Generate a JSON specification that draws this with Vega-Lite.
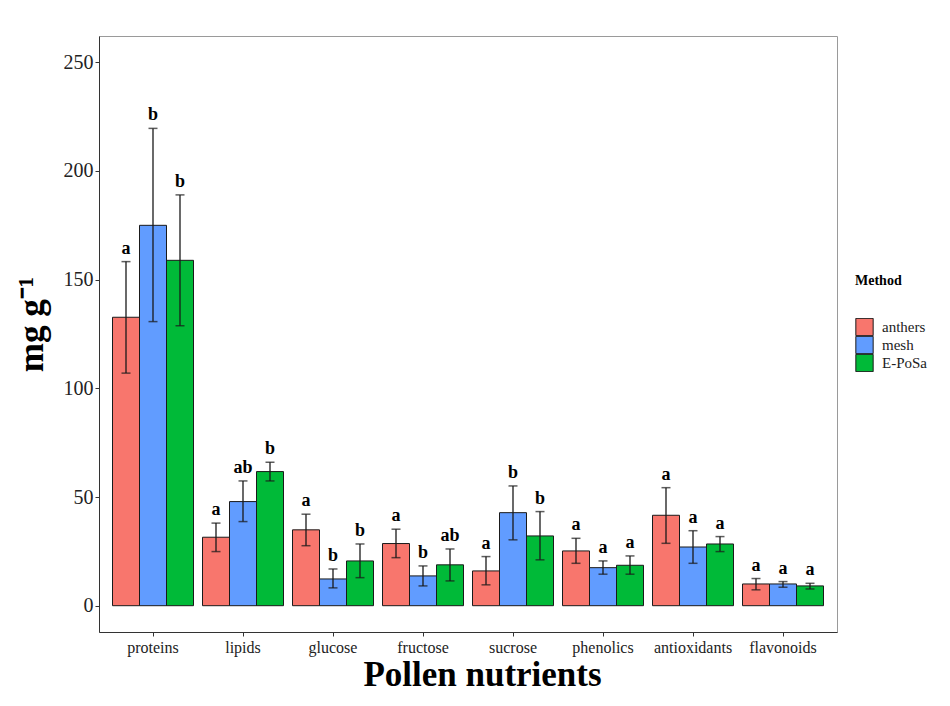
{
  "$schema": "https://vega.github.io/schema/vega-lite/v6.json",
  "autosize": {"type": "none"},
  "width": 738,
  "height": 596,
  "padding": {"left": 99, "top": 36, "right": 113, "bottom": 74},
  "background": "white",
  "config": {
    "font": "Liberation Serif",
    "view": {"stroke": "#9a9a9a", "strokeWidth": 1},
    "axis": {"grid": false, "domainColor": "#333", "tickColor": "#333", "labelColor": "#222", "titleColor": "#000", "labelFont": "Liberation Serif", "titleFont": "Liberation Serif"}
  },
  "data": {"values": [
    {"nutrient": "proteins", "method": "anthers", "mean": 132.7, "lo": 107.0, "hi": 158.3, "letter": "a"},
    {"nutrient": "proteins", "method": "mesh", "mean": 175.0, "lo": 130.7, "hi": 219.6, "letter": "b"},
    {"nutrient": "proteins", "method": "E-PoSa", "mean": 158.9, "lo": 128.8, "hi": 189.0, "letter": "b"},
    {"nutrient": "lipids", "method": "anthers", "mean": 31.5, "lo": 24.9, "hi": 38.0, "letter": "a"},
    {"nutrient": "lipids", "method": "mesh", "mean": 47.9, "lo": 38.7, "hi": 57.4, "letter": "ab"},
    {"nutrient": "lipids", "method": "E-PoSa", "mean": 61.7, "lo": 57.4, "hi": 66.0, "letter": "b"},
    {"nutrient": "glucose", "method": "anthers", "mean": 34.9, "lo": 27.6, "hi": 42.1, "letter": "a"},
    {"nutrient": "glucose", "method": "mesh", "mean": 12.3, "lo": 8.2, "hi": 16.9, "letter": "b"},
    {"nutrient": "glucose", "method": "E-PoSa", "mean": 20.6, "lo": 12.9, "hi": 28.4, "letter": "b"},
    {"nutrient": "fructose", "method": "anthers", "mean": 28.6, "lo": 22.1, "hi": 35.2, "letter": "a"},
    {"nutrient": "fructose", "method": "mesh", "mean": 13.7, "lo": 9.1, "hi": 18.3, "letter": "b"},
    {"nutrient": "fructose", "method": "E-PoSa", "mean": 18.8, "lo": 11.4, "hi": 26.1, "letter": "ab"},
    {"nutrient": "sucrose", "method": "anthers", "mean": 16.0, "lo": 9.6, "hi": 22.6, "letter": "a"},
    {"nutrient": "sucrose", "method": "mesh", "mean": 42.8, "lo": 30.3, "hi": 55.1, "letter": "b"},
    {"nutrient": "sucrose", "method": "E-PoSa", "mean": 32.1, "lo": 21.1, "hi": 43.3, "letter": "b"},
    {"nutrient": "phenolics", "method": "anthers", "mean": 25.2, "lo": 19.5, "hi": 31.0, "letter": "a"},
    {"nutrient": "phenolics", "method": "mesh", "mean": 17.5, "lo": 14.5, "hi": 20.6, "letter": "a"},
    {"nutrient": "phenolics", "method": "E-PoSa", "mean": 18.6, "lo": 14.5, "hi": 22.9, "letter": "a"},
    {"nutrient": "antioxidants", "method": "anthers", "mean": 41.6, "lo": 28.7, "hi": 54.3, "letter": "a"},
    {"nutrient": "antioxidants", "method": "mesh", "mean": 27.0, "lo": 19.5, "hi": 34.5, "letter": "a"},
    {"nutrient": "antioxidants", "method": "E-PoSa", "mean": 28.4, "lo": 24.9, "hi": 31.8, "letter": "a"},
    {"nutrient": "flavonoids", "method": "anthers", "mean": 10.0, "lo": 7.3, "hi": 12.5, "letter": "a"},
    {"nutrient": "flavonoids", "method": "mesh", "mean": 10.0, "lo": 8.5, "hi": 11.1, "letter": "a"},
    {"nutrient": "flavonoids", "method": "E-PoSa", "mean": 9.1, "lo": 7.7, "hi": 10.3, "letter": "a"}
  ]},
  "encoding": {
    "x": {
      "field": "nutrient", "type": "nominal",
      "sort": ["proteins", "lipids", "glucose", "fructose", "sucrose", "phenolics", "antioxidants", "flavonoids"],
      "scale": {"paddingInner": 0.1, "paddingOuter": 0.15},
      "axis": {"title": "Pollen nutrients", "labelAngle": 0, "labelFontSize": 16, "titleFontSize": 35, "titleFontWeight": "bold", "tickSize": 4, "labelPadding": 3, "titlePadding": 2, "titleX": 383}
    },
    "xOffset": {"field": "method", "type": "nominal", "sort": ["anthers", "mesh", "E-PoSa"], "scale": {"paddingInner": 0, "paddingOuter": 0}}
  },
  "layer": [
    {
      "mark": {"type": "bar", "stroke": "#1a1a1a", "strokeWidth": 1},
      "encoding": {
        "y": {"field": "mean", "type": "quantitative", "scale": {"domain": [-12.1, 262.1], "nice": false, "zero": false},
          "axis": {"title": "mg g⁻¹", "values": [0, 50, 100, 150, 200, 250], "labelFontSize": 20, "titleFontSize": 35, "titleFontWeight": "bold", "tickSize": 4, "labelPadding": 2, "titlePadding": 14, "titleY": 288}},
        "color": {"field": "method", "type": "nominal", "sort": ["anthers", "mesh", "E-PoSa"],
          "scale": {"domain": ["anthers", "mesh", "E-PoSa"], "range": ["#F8766D", "#619CFF", "#00BA38"]},
          "legend": {"title": "Method", "orient": "none", "legendX": 756, "legendY": 238, "titleFontSize": 14, "titleFontWeight": "bold", "titleFont": "Liberation Serif", "titlePadding": 30, "labelFontSize": 15, "labelFont": "Liberation Serif", "labelColor": "#222", "symbolType": "square", "symbolSize": 300, "symbolStrokeColor": "#1a1a1a", "symbolStrokeWidth": 1, "symbolOpacity": 1, "rowPadding": 0, "clipHeight": 18, "labelOffset": 8}}
      }
    },
    {
      "mark": {"type": "rule", "color": "#1a1a1a", "strokeWidth": 1.3},
      "encoding": {"y": {"field": "lo", "type": "quantitative"}, "y2": {"field": "hi"}}
    },
    {
      "mark": {"type": "tick", "orient": "horizontal", "color": "#1a1a1a", "size": 9, "thickness": 1.5},
      "encoding": {"y": {"field": "lo", "type": "quantitative"}}
    },
    {
      "mark": {"type": "tick", "orient": "horizontal", "color": "#1a1a1a", "size": 9, "thickness": 1.5},
      "encoding": {"y": {"field": "hi", "type": "quantitative"}}
    },
    {
      "mark": {"type": "text", "font": "Liberation Serif", "fontSize": 18, "fontWeight": "bold", "baseline": "alphabetic", "dy": -8, "color": "#000"},
      "encoding": {"y": {"field": "hi", "type": "quantitative"}, "text": {"field": "letter"}}
    }
  ]
}
